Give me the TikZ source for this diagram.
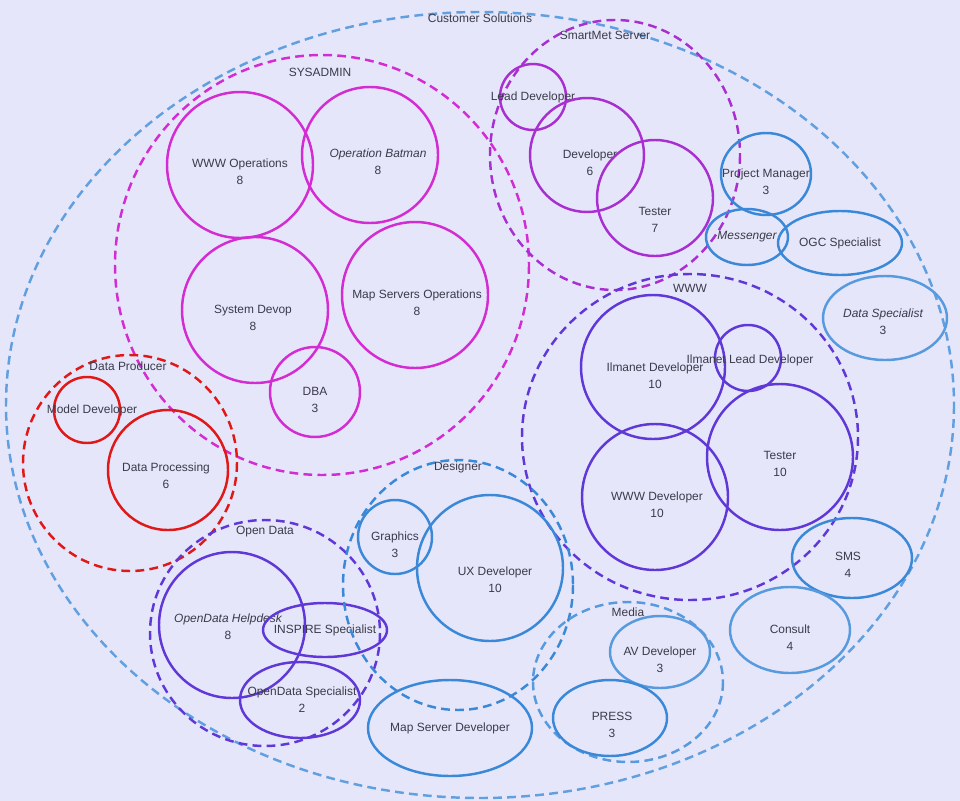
\documentclass[tikz,border=0pt]{standalone}
\usepackage{fontspec}
\setmainfont{Liberation Sans}
\definecolor{bg}{HTML}{E6E6FA}
\definecolor{mag}{HTML}{D22CD2}
\definecolor{pur}{HTML}{A830D0}
\definecolor{vio}{HTML}{6038D8}
\definecolor{blu}{HTML}{3A88D8}
\definecolor{lbl}{HTML}{3A3A4A}
\definecolor{rd}{HTML}{E01818}

\begin{document}
\begin{tikzpicture}[x=0.02cm, y=-0.02cm,
        every node/.style={text=lbl, font=\fontsize{6.8}{9.5}\selectfont, align=center},
        grp/.style={line width=1.4pt, dash pattern=on 5pt off 3pt},
        role/.style={line width=1.4pt}]
    \fill [bg] (0, 0) rectangle (960, 801);
    % customer solutions
    \draw [grp, blu!80] (480, 405) ellipse [x radius=474, y radius=393];
    \node at (480, 18) {Customer Solutions};
    % sysadmin
    \draw [grp, mag] (322, 265) ellipse [x radius=207, y radius=210];
    \node at (320, 72) {SYSADMIN};
    \draw [role, mag] (240, 165) circle (73);
    \node at (240, 172) {WWW Operations\\8};
    \draw [role, mag] (370, 155) circle (68);
    \node at (378, 162) {\itshape Operation Batman\\8};
    \draw [role, mag] (255, 310) circle (73);
    \node at (253, 318) {System Devop\\8};
    \draw [role, mag] (415, 295) circle (73);
    \node at (417, 303) {Map Servers Operations\\8};
    \draw [role, mag] (315, 392) circle (45);
    \node at (315, 400) {DBA\\3};
    % smartmet server
    \draw [grp, pur] (615, 155) ellipse [x radius=125, y radius=135];
    \node at (605, 35) {SmartMet Server};
    \draw [role, pur] (533, 97) circle (33);
    \node at (533, 97) {Lead Developer};
    \draw [role, pur] (587, 155) circle (57);
    \node at (590, 163) {Developer\\6};
    \draw [role, pur] (655, 198) circle (58);
    \node at (655, 220) {Tester\\7};
    % single roles
    \draw [role, blu] (766, 174) ellipse [x radius=45, y radius=41];
    \node at (766, 182) {Project Manager\\3};
    \draw [role, blu] (747, 237) ellipse [x radius=41, y radius=28];
    \node at (747, 237) {\itshape Messenger};
    \draw [role, blu] (840, 243) ellipse [x radius=62, y radius=32];
    \node at (840, 243) {OGC Specialist};
    \draw [role, blu!85] (885, 318) ellipse [x radius=62, y radius=42];
    \node at (883, 322) {\itshape Data Specialist\\3};
    % www
    \draw [grp, vio] (690, 437) ellipse [x radius=168, y radius=163];
    \node at (690, 288) {WWW};
    \draw [role, vio] (653, 367) circle (72);
    \node at (655, 376) {Ilmanet Developer\\10};
    \draw [role, vio] (748, 358) circle (33);
    \node at (750, 360) {Ilmanet Lead Developer};
    \draw [role, vio] (780, 457) circle (73);
    \node at (780, 464) {Tester\\10};
    \draw [role, vio] (655, 497) circle (73);
    \node at (657, 505) {WWW Developer\\10};
    \draw [role, blu] (852, 558) ellipse [x radius=60, y radius=40];
    \node at (848, 565) {SMS\\4};
    \draw [role, blu!85] (790, 630) ellipse [x radius=60, y radius=43];
    \node at (790, 638) {Consult\\4};
    % data producer
    \draw [grp, rd] (130, 463) ellipse [x radius=107, y radius=108];
    \node at (128, 366) {Data Producer};
    \draw [role, rd] (87, 410) circle (33);
    \node at (92, 410) {Model Developer};
    \draw [role, rd] (168, 470) circle (60);
    \node at (166, 476) {Data Processing\\6};
    % open data
    \draw [grp, vio] (265, 633) ellipse [x radius=115, y radius=113];
    \node at (265, 532) {Open Data};
    \draw [role, vio] (232, 625) circle (73);
    \node at (228, 627) {\itshape OpenData Helpdesk\\8};
    \draw [role, vio] (325, 630) ellipse [x radius=62, y radius=27];
    \node at (325, 630) {INSPIRE Specialist};
    \draw [role, vio] (300, 700) ellipse [x radius=60, y radius=38];
    \node at (302, 700) {OpenData Specialist\\2};
    % designer
    \draw [grp, blu] (458, 585) ellipse [x radius=115, y radius=125];
    \node at (458, 467) {Designer};
    \draw [role, blu] (395, 537) circle (37);
    \node at (395, 545) {Graphics\\3};
    \draw [role, blu] (490, 568) circle (73);
    \node at (495, 580) {UX Developer\\10};
    % media
    \draw [grp, blu!85] (628, 682) ellipse [x radius=95, y radius=80];
    \node at (628, 612) {Media};
    \draw [role, blu!85] (660, 652) ellipse [x radius=50, y radius=36];
    \node at (660, 660) {AV Developer\\3};
    \draw [role, blu] (610, 718) ellipse [x radius=57, y radius=38];
    \node at (612, 725) {PRESS\\3};
    \draw [role, blu] (450, 728) ellipse [x radius=82, y radius=48];
    \node at (450, 728) {Map Server Developer};
\end{tikzpicture}
\end{document}
